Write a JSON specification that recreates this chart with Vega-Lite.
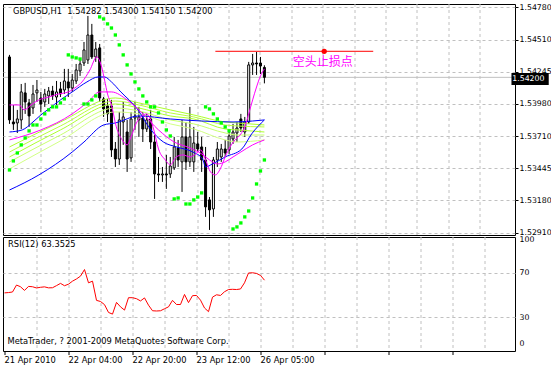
{
  "$schema": "https://vega.github.io/schema/vega-lite/v6.json",
  "background": "white",
  "padding": {"left": 2, "top": 2, "right": 0, "bottom": 0},
  "autosize": {"type": "pad"},
  "config": {
    "view": {"stroke": "black", "strokeWidth": 1},
    "font": "DejaVu Sans",
    "axis": {"labelFont": "DejaVu Sans", "labelFontSize": 7.8, "labelColor": "black", "gridColor": "#c0c0c0", "gridDash": [3, 3], "gridOpacity": 1, "gridWidth": 1, "tickColor": "black", "tickWidth": 1, "domain": false, "labelOverlap": false, "labelBound": false, "tickCount": 60}
  },
  "datasets": {
    "candles": [
      {"i":0,"o":1.54369,"h":1.54386,"l":1.53814,"c":1.53847},
      {"i":1,"o":1.53830,"h":1.53971,"l":1.53764,"c":1.53814},
      {"i":2,"o":1.53822,"h":1.53930,"l":1.53739,"c":1.53855},
      {"i":3,"o":1.53847,"h":1.54145,"l":1.53772,"c":1.54079},
      {"i":4,"o":1.54071,"h":1.54154,"l":1.53897,"c":1.53996},
      {"i":5,"o":1.53988,"h":1.54021,"l":1.53789,"c":1.53880},
      {"i":6,"o":1.53946,"h":1.54137,"l":1.53897,"c":1.54062},
      {"i":7,"o":1.54071,"h":1.54178,"l":1.53996,"c":1.54095},
      {"i":8,"o":1.54029,"h":1.54079,"l":1.53913,"c":1.53979},
      {"i":9,"o":1.53996,"h":1.54104,"l":1.53955,"c":1.54062},
      {"i":10,"o":1.54046,"h":1.54120,"l":1.53979,"c":1.54087},
      {"i":11,"o":1.54087,"h":1.54129,"l":1.54013,"c":1.54046},
      {"i":12,"o":1.54037,"h":1.54170,"l":1.53971,"c":1.54079},
      {"i":13,"o":1.54104,"h":1.54162,"l":1.54037,"c":1.54062},
      {"i":14,"o":1.54095,"h":1.54270,"l":1.54062,"c":1.54170},
      {"i":15,"o":1.54162,"h":1.54270,"l":1.54037,"c":1.54112},
      {"i":16,"o":1.54112,"h":1.54228,"l":1.54079,"c":1.54178},
      {"i":17,"o":1.54170,"h":1.54311,"l":1.54145,"c":1.54261},
      {"i":18,"o":1.54253,"h":1.54352,"l":1.54212,"c":1.54311},
      {"i":19,"o":1.54319,"h":1.54493,"l":1.54294,"c":1.54427},
      {"i":20,"o":1.54344,"h":1.54709,"l":1.54311,"c":1.54551},
      {"i":21,"o":1.54551,"h":1.54643,"l":1.54352,"c":1.54369},
      {"i":22,"o":1.54369,"h":1.54493,"l":1.54328,"c":1.54435},
      {"i":23,"o":1.54444,"h":1.54477,"l":1.53996,"c":1.54029},
      {"i":24,"o":1.54021,"h":1.54037,"l":1.53872,"c":1.53938},
      {"i":25,"o":1.53963,"h":1.54021,"l":1.53830,"c":1.53897},
      {"i":26,"o":1.53963,"h":1.54013,"l":1.53540,"c":1.53598},
      {"i":27,"o":1.53606,"h":1.53664,"l":1.53457,"c":1.53523},
      {"i":28,"o":1.53523,"h":1.53913,"l":1.53474,"c":1.53847},
      {"i":29,"o":1.53830,"h":1.53996,"l":1.53640,"c":1.53872},
      {"i":30,"o":1.53747,"h":1.53847,"l":1.53416,"c":1.53523},
      {"i":31,"o":1.53532,"h":1.53913,"l":1.53499,"c":1.53855},
      {"i":32,"o":1.53863,"h":1.53996,"l":1.53764,"c":1.53880},
      {"i":33,"o":1.53847,"h":1.53955,"l":1.53706,"c":1.53872},
      {"i":34,"o":1.53863,"h":1.53913,"l":1.53664,"c":1.53772},
      {"i":35,"o":1.53772,"h":1.53897,"l":1.53747,"c":1.53847},
      {"i":36,"o":1.53855,"h":1.53930,"l":1.53606,"c":1.53664},
      {"i":37,"o":1.53664,"h":1.53722,"l":1.53192,"c":1.53399},
      {"i":38,"o":1.53399,"h":1.53540,"l":1.53333,"c":1.53391},
      {"i":39,"o":1.53391,"h":1.53457,"l":1.53333,"c":1.53399},
      {"i":40,"o":1.53399,"h":1.53557,"l":1.53275,"c":1.53391},
      {"i":41,"o":1.53399,"h":1.53540,"l":1.53366,"c":1.53465},
      {"i":42,"o":1.53449,"h":1.53706,"l":1.53432,"c":1.53623},
      {"i":43,"o":1.53615,"h":1.53681,"l":1.53457,"c":1.53515},
      {"i":44,"o":1.53499,"h":1.53847,"l":1.53250,"c":1.53706},
      {"i":45,"o":1.53706,"h":1.53830,"l":1.53432,"c":1.53499},
      {"i":46,"o":1.53499,"h":1.53955,"l":1.53457,"c":1.53706},
      {"i":47,"o":1.53499,"h":1.53789,"l":1.53416,"c":1.53656},
      {"i":48,"o":1.53648,"h":1.53747,"l":1.53581,"c":1.53606},
      {"i":49,"o":1.53623,"h":1.53706,"l":1.53416,"c":1.53515},
      {"i":50,"o":1.53515,"h":1.53623,"l":1.53043,"c":1.53126},
      {"i":51,"o":1.53184,"h":1.53208,"l":1.52935,"c":1.53101},
      {"i":52,"o":1.53109,"h":1.53540,"l":1.53043,"c":1.53515},
      {"i":53,"o":1.53515,"h":1.53664,"l":1.53457,"c":1.53606},
      {"i":54,"o":1.53540,"h":1.53648,"l":1.53499,"c":1.53606},
      {"i":55,"o":1.53606,"h":1.53681,"l":1.53540,"c":1.53573},
      {"i":56,"o":1.53598,"h":1.53764,"l":1.53565,"c":1.53714},
      {"i":57,"o":1.53689,"h":1.53814,"l":1.53648,"c":1.53747},
      {"i":58,"o":1.53739,"h":1.53830,"l":1.53664,"c":1.53780},
      {"i":59,"o":1.53855,"h":1.53897,"l":1.53747,"c":1.53780},
      {"i":60,"o":1.53747,"h":1.53872,"l":1.53706,"c":1.53830},
      {"i":61,"o":1.53830,"h":1.54328,"l":1.53814,"c":1.54303},
      {"i":62,"o":1.54303,"h":1.54394,"l":1.54220,"c":1.54319},
      {"i":63,"o":1.54319,"h":1.54410,"l":1.54220,"c":1.54311},
      {"i":64,"o":1.54319,"h":1.54369,"l":1.54228,"c":1.54294},
      {"i":65,"o":1.54282,"h":1.54300,"l":1.54150,"c":1.54200}
    ],
    "sar": [
      {"i":0,"p":1.53432},{"i":1,"p":1.53507},{"i":2,"p":1.53573},{"i":3,"p":1.53640},{"i":4,"p":1.53698},
      {"i":5,"p":1.53756},{"i":6,"p":1.53805},{"i":7,"p":1.53805},{"i":8,"p":1.53855},{"i":9,"p":1.53897},
      {"i":10,"p":1.53930},{"i":11,"p":1.53955},{"i":12,"p":1.53955},{"i":13,"p":1.53988},{"i":14,"p":1.54021},
      {"i":15,"p":1.54386},{"i":16,"p":1.54369},{"i":17,"p":1.54361},{"i":18,"p":1.54352},
      {"i":19,"p":1.53979},{"i":20,"p":1.53979},{"i":21,"p":1.54013},{"i":22,"p":1.54046},
      {"i":23,"p":1.54701},{"i":24,"p":1.54684},{"i":25,"p":1.54643},{"i":26,"p":1.54609},{"i":27,"p":1.54551},
      {"i":28,"p":1.54469},{"i":29,"p":1.54386},{"i":30,"p":1.54303},{"i":31,"p":1.54228},{"i":32,"p":1.54162},
      {"i":33,"p":1.54104},{"i":34,"p":1.54046},{"i":35,"p":1.53996},{"i":36,"p":1.53955},{"i":37,"p":1.53955},
      {"i":38,"p":1.53905},{"i":39,"p":1.53830},{"i":40,"p":1.53764},{"i":41,"p":1.53714},
      {"i":42,"p":1.53192},{"i":43,"p":1.53200},{"i":45,"p":1.53150},{"i":46,"p":1.53150},{"i":47,"p":1.53184},
      {"i":48,"p":1.53208},{"i":49,"p":1.53242},
      {"i":50,"p":1.53955},{"i":51,"p":1.53938},{"i":52,"p":1.53897},{"i":53,"p":1.53855},{"i":54,"p":1.53822},
      {"i":55,"p":1.53789},{"i":56,"p":1.53756},
      {"i":57,"p":1.52943},{"i":58,"p":1.52960},{"i":59,"p":1.52993},{"i":60,"p":1.53043},{"i":61,"p":1.53092},
      {"i":62,"p":1.53200},{"i":63,"p":1.53316},{"i":64,"p":1.53424},{"i":65,"p":1.53515}
    ],
    "yg": [
      {"s":"yg1","i":0,"p":1.53623},{"s":"yg1","i":13,"p":1.53830},{"s":"yg1","i":27,"p":1.54029},{"s":"yg1","i":33,"p":1.53988},{"s":"yg1","i":41,"p":1.53930},{"s":"yg1","i":47,"p":1.53888},{"s":"yg1","i":55,"p":1.53830},{"s":"yg1","i":58,"p":1.53822},{"s":"yg1","i":65,"p":1.53805},
      {"s":"yg2","i":0,"p":1.53581},{"s":"yg2","i":13,"p":1.53797},{"s":"yg2","i":27,"p":1.54004},{"s":"yg2","i":33,"p":1.53971},{"s":"yg2","i":41,"p":1.53905},{"s":"yg2","i":47,"p":1.53872},{"s":"yg2","i":55,"p":1.53805},{"s":"yg2","i":58,"p":1.53797},{"s":"yg2","i":65,"p":1.53789},
      {"s":"yg3","i":0,"p":1.53540},{"s":"yg3","i":13,"p":1.53764},{"s":"yg3","i":27,"p":1.53979},{"s":"yg3","i":33,"p":1.53946},{"s":"yg3","i":41,"p":1.53880},{"s":"yg3","i":47,"p":1.53855},{"s":"yg3","i":55,"p":1.53772},{"s":"yg3","i":58,"p":1.53764},{"s":"yg3","i":65,"p":1.53747},
      {"s":"yg4","i":0,"p":1.53499},{"s":"yg4","i":13,"p":1.53722},{"s":"yg4","i":27,"p":1.53946},{"s":"yg4","i":33,"p":1.53921},{"s":"yg4","i":41,"p":1.53847},{"s":"yg4","i":47,"p":1.53814},{"s":"yg4","i":55,"p":1.53739},{"s":"yg4","i":58,"p":1.53722},{"s":"yg4","i":65,"p":1.53722},
      {"s":"yg5","i":0,"p":1.53441},{"s":"yg5","i":13,"p":1.53673},{"s":"yg5","i":27,"p":1.53913},{"s":"yg5","i":33,"p":1.53897},{"s":"yg5","i":41,"p":1.53814},{"s":"yg5","i":47,"p":1.53772},{"s":"yg5","i":55,"p":1.53681},{"s":"yg5","i":58,"p":1.53664},{"s":"yg5","i":65,"p":1.53681}
    ],
    "blue": [
      {"s":"bA","i":0,"p":1.53747},{"s":"bA","i":3.25,"p":1.53764},{"s":"bA","i":6,"p":1.53830},{"s":"bA","i":8,"p":1.53888},{"s":"bA","i":10,"p":1.53938},{"s":"bA","i":13,"p":1.54013},{"s":"bA","i":16,"p":1.54079},{"s":"bA","i":19.75,"p":1.54162},{"s":"bA","i":22.6,"p":1.54203},{"s":"bA","i":24.25,"p":1.54203},{"s":"bA","i":26,"p":1.54162},{"s":"bA","i":28.4,"p":1.54079},{"s":"bA","i":32.6,"p":1.53938},{"s":"bA","i":35.9,"p":1.53772},{"s":"bA","i":39.25,"p":1.53664},{"s":"bA","i":42.6,"p":1.53623},{"s":"bA","i":46.75,"p":1.53581},{"s":"bA","i":49.25,"p":1.53523},{"s":"bA","i":50,"p":1.53457},{"s":"bA","i":51.75,"p":1.53482},{"s":"bA","i":55,"p":1.53540},{"s":"bA","i":59.25,"p":1.53606},{"s":"bA","i":61.75,"p":1.53731},{"s":"bA","i":65,"p":1.53847},
      {"s":"bB","i":0,"p":1.53266},{"s":"bB","i":7.5,"p":1.53391},{"s":"bB","i":16,"p":1.53581},{"s":"bB","i":19,"p":1.53664},{"s":"bB","i":24,"p":1.53805},{"s":"bB","i":27,"p":1.53822},{"s":"bB","i":33,"p":1.53880},{"s":"bB","i":41,"p":1.53855},{"s":"bB","i":49,"p":1.53838},{"s":"bB","i":57,"p":1.53830},{"s":"bB","i":62,"p":1.53838},{"s":"bB","i":65,"p":1.53847}
    ],
    "mag": [
      {"s":"m1","i":0,"p":1.53971},{"s":"m1","i":2.5,"p":1.53971},{"s":"m1","i":3.75,"p":1.53930},{"s":"m1","i":5.5,"p":1.53971},{"s":"m1","i":7.5,"p":1.54013},{"s":"m1","i":10,"p":1.54037},{"s":"m1","i":12.5,"p":1.54062},{"s":"m1","i":15,"p":1.54079},{"s":"m1","i":17,"p":1.54120},{"s":"m1","i":18.5,"p":1.54162},{"s":"m1","i":20.5,"p":1.54261},{"s":"m1","i":22.25,"p":1.54369},{"s":"m1","i":23.5,"p":1.54286},{"s":"m1","i":24.25,"p":1.54178},{"s":"m1","i":25,"p":1.54062},{"s":"m1","i":26,"p":1.53971},{"s":"m1","i":27.25,"p":1.53789},{"s":"m1","i":28.75,"p":1.53681},{"s":"m1","i":30,"p":1.53640},{"s":"m1","i":31,"p":1.53706},{"s":"m1","i":32.5,"p":1.53830},{"s":"m1","i":35,"p":1.53897},{"s":"m1","i":36.75,"p":1.53772},{"s":"m1","i":38,"p":1.53606},{"s":"m1","i":39.75,"p":1.53515},{"s":"m1","i":41,"p":1.53474},{"s":"m1","i":42.5,"p":1.53540},{"s":"m1","i":44.25,"p":1.53557},{"s":"m1","i":46,"p":1.53540},{"s":"m1","i":47.5,"p":1.53565},{"s":"m1","i":48.75,"p":1.53598},{"s":"m1","i":50,"p":1.53515},{"s":"m1","i":51.25,"p":1.53416},{"s":"m1","i":52.5,"p":1.53391},{"s":"m1","i":53.75,"p":1.53441},{"s":"m1","i":55,"p":1.53540},{"s":"m1","i":56.25,"p":1.53623},{"s":"m1","i":57.5,"p":1.53681},{"s":"m1","i":59,"p":1.53731},{"s":"m1","i":60,"p":1.53789},{"s":"m1","i":61,"p":1.53897},{"s":"m1","i":62,"p":1.54013},{"s":"m1","i":63,"p":1.54120},{"s":"m1","i":64,"p":1.54212},{"s":"m1","i":65,"p":1.54270},
      {"s":"m2","i":0,"p":1.53681},{"s":"m2","i":8,"p":1.53764},{"s":"m2","i":16,"p":1.53897},{"s":"m2","i":20,"p":1.53996},{"s":"m2","i":23,"p":1.54079},{"s":"m2","i":26,"p":1.54079},{"s":"m2","i":30,"p":1.54013},{"s":"m2","i":34,"p":1.53897},{"s":"m2","i":38,"p":1.53764},{"s":"m2","i":42,"p":1.53664},{"s":"m2","i":46,"p":1.53615},{"s":"m2","i":49,"p":1.53565},{"s":"m2","i":51,"p":1.53515},{"s":"m2","i":53,"p":1.53482},{"s":"m2","i":55,"p":1.53499},{"s":"m2","i":57,"p":1.53540},{"s":"m2","i":59,"p":1.53581},{"s":"m2","i":62,"p":1.53640},{"s":"m2","i":65,"p":1.53681}
    ],
    "rsi": [
      {"i":0,"v":52},{"i":1,"v":52.3},{"i":2,"v":52.8},{"i":3,"v":59},{"i":4,"v":57.5},{"i":5,"v":54.2},{"i":6,"v":57.8},{"i":7,"v":57.5},{"i":8,"v":56.4},{"i":9,"v":57},
      {"i":10,"v":57.4},{"i":11,"v":56.5},{"i":12,"v":56.6},{"i":13,"v":58.5},{"i":14,"v":60.5},{"i":15,"v":58.4},{"i":16,"v":59.8},{"i":17,"v":62.5},{"i":18,"v":64.5},{"i":19,"v":67},
      {"i":20,"v":72.9},{"i":21,"v":61},{"i":22,"v":62.5},{"i":23,"v":45.3},{"i":24,"v":44.3},{"i":25,"v":41.5},{"i":26,"v":34.5},{"i":27,"v":33},{"i":28,"v":43.5},{"i":29,"v":39.5},
      {"i":30,"v":36.6},{"i":31,"v":47.7},{"i":32,"v":47.7},{"i":33,"v":46.8},{"i":34,"v":44.8},{"i":35,"v":47.5},{"i":36,"v":41},{"i":37,"v":36},{"i":38,"v":35.8},{"i":39,"v":36},
      {"i":40,"v":37.8},{"i":41,"v":39.5},{"i":42,"v":45.3},{"i":43,"v":41.6},{"i":44,"v":41.6},{"i":45,"v":50.6},{"i":46,"v":43.3},{"i":47,"v":49.5},{"i":48,"v":49.7},{"i":49,"v":45.5},
      {"i":50,"v":38.5},{"i":51,"v":35.2},{"i":52,"v":48.2},{"i":53,"v":50.3},{"i":54,"v":49.7},{"i":55,"v":53},{"i":56,"v":55},{"i":57,"v":55.2},{"i":58,"v":55},{"i":59,"v":55.5},
      {"i":60,"v":61},{"i":61,"v":69.8},{"i":62,"v":70},{"i":63,"v":69.4},{"i":64,"v":67.6},{"i":65,"v":63.35}
    ]
  },
  "spacing": 2,
  "bounds": "flush",
  "resolve": {"scale": {"x": "independent", "y": "independent"}},
  "vconcat": [
    {
      "width": 512,
      "height": 231,
      "layer": [
        {
          "data": {"values": [{}]},
          "mark": {"type": "rule", "color": "#c0c0c0", "strokeWidth": 1},
          "encoding": {"y": {"datum": 1.542, "type": "quantitative"}}
        },
        {
          "data": {"name": "candles"},
          "mark": {"type": "rule", "color": "black", "strokeWidth": 1, "clip": true},
          "encoding": {
            "x": {"field": "i", "type": "quantitative", "title": null,
              "scale": {"domain": [-0.375, 127.625], "nice": false, "zero": false},
              "axis": {"values": [0,8,16,24,32,40,48,56,64,72,80,88,96,104,112,120], "tickCount": 60, "grid": true, "labels": false, "ticks": false, "domain": false, "translate": 0, "title": null,
                "gridOpacity": {"condition": {"test": "datum.value === 0", "value": 0}, "value": 1}}},
            "y": {"field": "l", "type": "quantitative", "title": null,
              "scale": {"domain": [1.52893, 1.54808], "nice": false, "zero": false},
              "axis": {"orient": "right", "values": [1.5291, 1.5318, 1.53445, 1.5371, 1.5398, 1.54245, 1.5451, 1.5478], "tickCount": 60, "format": ".5f", "grid": true, "ticks": true, "tickSize": 3, "labelPadding": 1, "labelOverlap": false, "labelBound": false, "labelFlush": false, "title": null}},
            "y2": {"field": "h"}
          }
        },
        {
          "data": {"name": "candles"},
          "mark": {"type": "bar", "width": 2, "stroke": "black", "strokeWidth": 1, "clip": true},
          "encoding": {
            "x": {"field": "i", "type": "quantitative"},
            "y": {"field": "o", "type": "quantitative"},
            "y2": {"field": "c"},
            "fill": {"condition": {"test": "datum.c > datum.o", "value": "white"}, "value": "black"}
          }
        },
        {
          "data": {"name": "yg"},
          "mark": {"type": "line", "strokeWidth": 1, "interpolate": "monotone", "clip": true},
          "encoding": {
            "x": {"field": "i", "type": "quantitative"},
            "y": {"field": "p", "type": "quantitative"},
            "color": {"field": "s", "type": "nominal", "legend": null,
              "scale": {"domain": ["yg1","yg2","yg3","yg4","yg5","bA","bB","m1","m2"], "range": ["#adff2f","#b8ff3c","#adff2f","#c8ff6e","#d2ff85","#0000ff","#0000ff","#ff00ff","#ff00ff"]}}
          }
        },
        {
          "data": {"name": "blue"},
          "mark": {"type": "line", "strokeWidth": 1, "interpolate": "monotone", "clip": true},
          "encoding": {
            "x": {"field": "i", "type": "quantitative"},
            "y": {"field": "p", "type": "quantitative"},
            "color": {"field": "s", "type": "nominal", "legend": null}
          }
        },
        {
          "data": {"name": "mag"},
          "mark": {"type": "line", "strokeWidth": 1, "interpolate": "monotone", "clip": true},
          "encoding": {
            "x": {"field": "i", "type": "quantitative"},
            "y": {"field": "p", "type": "quantitative"},
            "color": {"field": "s", "type": "nominal", "legend": null}
          }
        },
        {
          "data": {"name": "sar"},
          "mark": {"type": "point", "shape": "square", "filled": true, "size": 11, "color": "#00ff00", "opacity": 1, "clip": true},
          "encoding": {
            "x": {"field": "i", "type": "quantitative"},
            "y": {"field": "p", "type": "quantitative"}
          }
        },
        {
          "data": {"values": [{}]},
          "mark": {"type": "rule", "color": "#ff0000", "strokeWidth": 1},
          "encoding": {"x": {"datum": 52.5}, "x2": {"datum": 92.75}, "y": {"datum": 1.54416}}
        },
        {
          "data": {"values": [{}]},
          "mark": {"type": "circle", "color": "#ff0000", "size": 28, "opacity": 1},
          "encoding": {"x": {"datum": 80.25}, "y": {"datum": 1.54416}}
        },
        {
          "data": {"values": [{}]},
          "mark": {"type": "text", "font": "Noto Sans CJK SC", "fontSize": 12, "color": "#ff00ff", "align": "center", "baseline": "middle"},
          "encoding": {"x": {"datum": 79.875}, "y": {"datum": 1.54328}, "text": {"value": "空头止损点"}}
        },
        {
          "data": {"values": [{}]},
          "mark": {"type": "text", "font": "DejaVu Sans", "fontSize": 8.3, "color": "black", "align": "left", "baseline": "middle"},
          "encoding": {"x": {"datum": 0.9}, "y": {"datum": 1.54738}, "text": {"value": "GBPUSD,H1\u00a0\u00a01.54282 1.54300 1.54150 1.54200"}}
        },
        {
          "data": {"values": [{}]},
          "mark": {"type": "rect", "color": "black", "clip": false},
          "encoding": {"x": {"datum": 128}, "x2": {"datum": 137.5}, "y": {"datum": 1.54236}, "y2": {"datum": 1.54137}}
        },
        {
          "data": {"values": [{}]},
          "mark": {"type": "text", "font": "DejaVu Sans", "fontSize": 7.8, "color": "white", "align": "left", "baseline": "middle", "clip": false},
          "encoding": {"x": {"datum": 128.2}, "y": {"datum": 1.54187}, "text": {"value": "1.54200"}}
        }
      ]
    },
    {
      "width": 512,
      "height": 114,
      "layer": [
        {
          "data": {"name": "rsi"},
          "mark": {"type": "line", "color": "#ff0000", "strokeWidth": 1, "clip": true},
          "encoding": {
            "x": {"field": "i", "type": "quantitative", "title": null,
              "scale": {"domain": [-0.375, 127.625], "nice": false, "zero": false},
              "axis": {"values": [0,8,16,24,32,40,48,56,64,72,80,88,96,104,112,120], "tickCount": 60, "grid": true, "domain": false, "translate": 0, "title": null,
                "gridOpacity": {"condition": {"test": "datum.value === 0", "value": 0}, "value": 1},
                "tickSize": 4,
                "tickOpacity": {"condition": {"test": "datum.value % 16 === 0", "value": 1}, "value": 0},
                "labelAlign": "left", "labelBaseline": "top", "labelPadding": 1, "labelFlush": false, "labelOverlap": false, "labelBound": false, "labelFontSize": 8.3,
                "labelExpr": "datum.value === 0 ? '21 Apr 2010' : datum.value === 16 ? '22 Apr 04:00' : datum.value === 32 ? '22 Apr 20:00' : datum.value === 48 ? '23 Apr 12:00' : datum.value === 64 ? '26 Apr 05:00' : ''"}},
            "y": {"field": "v", "type": "quantitative", "title": null,
              "scale": {"domain": [0, 102], "nice": false, "zero": false},
              "axis": {"orient": "right", "values": [0, 30, 70, 100], "tickCount": 60, "grid": true, "ticks": false, "labelPadding": 4, "labelOverlap": false, "labelBound": false, "labelFlush": true, "labelFlushOffset": -4, "title": null,
                "gridOpacity": {"condition": {"test": "datum.value === 100 || datum.value === 0", "value": 0}, "value": 1}}}
          }
        },
        {
          "data": {"values": [{}]},
          "mark": {"type": "text", "font": "DejaVu Sans", "fontSize": 8.3, "color": "black", "align": "left", "baseline": "middle"},
          "encoding": {"x": {"datum": 0.9}, "y": {"datum": 94.4}, "text": {"value": "RSI(12) 63.3525"}}
        },
        {
          "data": {"values": [{}]},
          "mark": {"type": "text", "font": "DejaVu Sans", "fontSize": 8.3, "color": "black", "align": "left", "baseline": "middle"},
          "encoding": {"x": {"datum": 0.75}, "y": {"datum": 8.5}, "text": {"value": "MetaTrader, ? 2001-2009 MetaQuotes Software Corp."}}
        }
      ]
    }
  ]
}
